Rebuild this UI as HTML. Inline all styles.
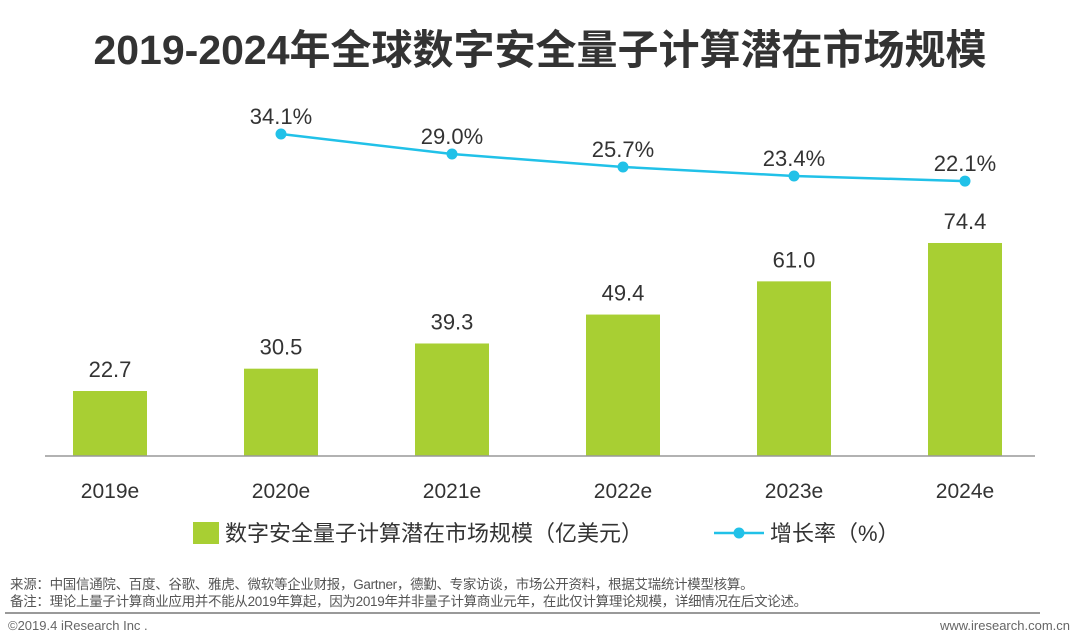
<!DOCTYPE html>
<html><head><meta charset="utf-8">
<style>
body{margin:0;width:1080px;height:641px;background:#fff;font-family:"Liberation Sans","Noto Sans CJK SC",sans-serif;overflow:hidden;position:relative}
.t{position:absolute;white-space:nowrap}
</style></head><body>
<div class="t" style="left:0;width:1080px;text-align:center;top:16px;font-size:41px;font-weight:bold;color:#333">2019-2024年全球数字安全量子计算潜在市场规模</div>
<svg id="c" width="1080" height="641" style="position:absolute;left:0;top:0"></svg>
<div class="t" style="left:10px;top:573px;font-size:13.5px;letter-spacing:-0.3px;color:#555">来源：中国信通院、百度、谷歌、雅虎、微软等企业财报，Gartner，德勤、专家访谈，市场公开资料，根据艾瑞统计模型核算。</div>
<div class="t" style="left:10px;top:590px;font-size:13.5px;letter-spacing:-0.3px;color:#555">备注：理论上量子计算商业应用并不能从2019年算起，因为2019年并非量子计算商业元年，在此仅计算理论规模，详细情况在后文论述。</div>
<div style="position:absolute;left:5px;top:612px;width:1035px;height:2px;background:#999"></div>
<div class="t" style="left:8px;top:618px;font-size:13px;color:#666">©2019.4 iResearch Inc .</div>
<div class="t" style="right:10px;top:618px;font-size:13px;color:#666">www.iresearch.com.cn</div>
<script>
const categories=["2019e","2020e","2021e","2022e","2023e","2024e"];
const marketSize=[22.7,30.5,39.3,49.4,61.0,74.4];
const growthRate=[null,34.1,29.0,25.7,23.4,22.1];
const NS="http://www.w3.org/2000/svg";
const svg=document.getElementById('c');
function mk(t,a,txt){const e=document.createElementNS(NS,t);for(const k in a)e.setAttribute(k,a[k]);if(txt!==undefined)e.textContent=txt;svg.appendChild(e);return e;}
const base=456;
const xc=i=>110+i*171;
const yb=v=>base-v*2.863;
const yl=v=>267.7-3.92*v;
marketSize.forEach((v,i)=>{
 const r=mk('rect',{x:xc(i)-37,y:yb(v),width:74,height:base-yb(v),fill:'#a8cf33'});
 
 
 const t=mk('text',{x:xc(i),y:yb(v)-14,'text-anchor':'middle','font-size':22,fill:'#333'},v.toFixed(1));
 
 
 const c=mk('text',{x:xc(i),y:498,'text-anchor':'middle','font-size':21,fill:'#333'},categories[i]);
 
 
});
const ax=mk('line',{x1:45,y1:base,x2:1035,y2:base,stroke:'#999','stroke-width':1.5});


let pts=[];growthRate.forEach((v,i)=>{if(v!==null)pts.push(xc(i)+','+yl(v));});
const pl=mk('polyline',{points:pts.join(' '),fill:'none',stroke:'#21c1e8','stroke-width':2.5});


growthRate.forEach((v,i)=>{if(v===null)return;
 const p=mk('circle',{cx:xc(i),cy:yl(v),r:5.5,fill:'#21c1e8'});
 
 
 const t=mk('text',{x:xc(i),y:yl(v)-10,'text-anchor':'middle','font-size':22,fill:'#333'},v.toFixed(1)+'%');
 
 
});
const l1=mk('rect',{x:193,y:522,width:26,height:22,fill:'#a8cf33'});


const l1t=mk('text',{x:225,y:541,'font-size':22,fill:'#333'},'数字安全量子计算潜在市场规模（亿美元）');


const l2=mk('line',{x1:714,y1:533,x2:764,y2:533,stroke:'#21c1e8','stroke-width':2.5});


const l2c=mk('circle',{cx:739,cy:533,r:5.5,fill:'#21c1e8'});


const l2t=mk('text',{x:770,y:541,'font-size':22,fill:'#333'},'增长率（%）');


</script>
</body></html>
